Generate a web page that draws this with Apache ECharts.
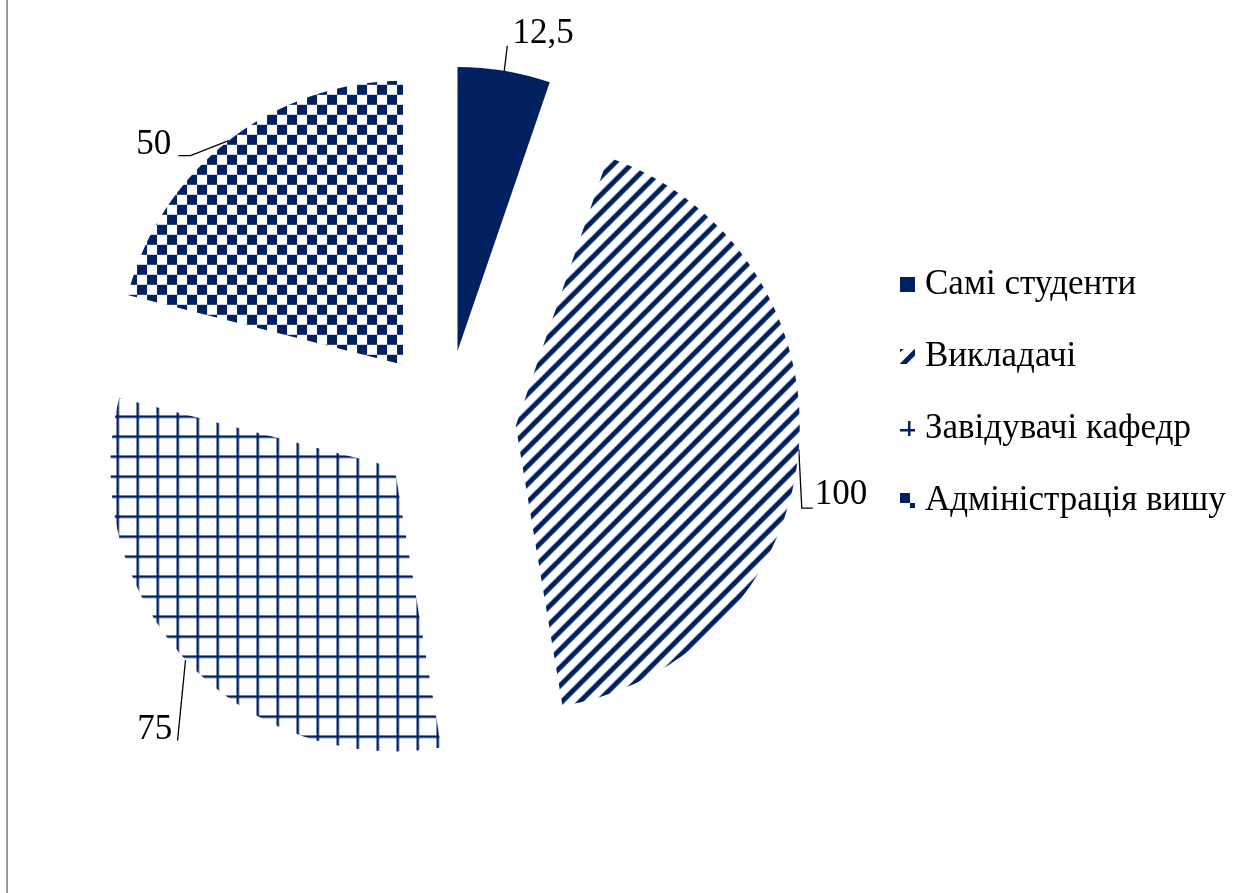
<!DOCTYPE html>
<html>
<head>
<meta charset="utf-8">
<script src="https://cdn.jsdelivr.net/npm/echarts@6/dist/echarts.min.js"></script>
<style>
html,body{margin:0;padding:0;background:#fff;}
#chart{width:1243px;height:893px;position:relative;}
#edge{position:absolute;left:6px;top:0;width:2px;height:893px;background:#9a9a9a;}
</style>
</head>
<body>
<div id="chart"></div>
<div id="edge"></div>
<script>
const categories = ['Самі студенти', 'Викладачі', 'Завідувачі кафедр', 'Адміністрація вишу'];
const values = [12.5, 100, 75, 50];

const NAVY = '#002060';

function makeCanvas(w, h, draw) {
  const c = document.createElement('canvas');
  c.width = w; c.height = h;
  const ctx = c.getContext('2d');
  ctx.fillStyle = '#fff';
  ctx.fillRect(0, 0, w, h);
  draw(ctx);
  return c;
}
const stripes = makeCanvas(18, 18, ctx => {
  ctx.strokeStyle = NAVY; ctx.lineWidth = 5;
  [[-9, 9, 9, -9], [0, 18, 18, 0], [9, 27, 27, 9]].forEach(l => {
    ctx.beginPath(); ctx.moveTo(l[0], l[1]); ctx.lineTo(l[2], l[3]); ctx.stroke();
  });
});
const grid = makeCanvas(20, 20, ctx => {
  ctx.fillStyle = NAVY;
  ctx.fillRect(8, 0, 2.5, 20);
  ctx.fillRect(0, 8, 20, 2.5);
});
const checker = makeCanvas(20, 20, ctx => {
  ctx.fillStyle = NAVY;
  ctx.fillRect(0, 0, 10, 10);
  ctx.fillRect(10, 10, 10, 10);
});
const fills = [
  NAVY,
  { image: stripes, repeat: 'repeat' },
  { image: grid, repeat: 'repeat' },
  { image: checker, repeat: 'repeat' }
];
// label line lengths [first segment, second segment]
const labelLines = [[38, 0], [10, 4], [10, 5], [2, 54]];
// label text nudges [dx, dy]
const labelNudges = [[0, 0], [0, 45], [1, 63], [0, 6]];
// leader line bend offsets, relative to the library's own line points
function leaderPoints(i, pts) {
  const p0 = pts[0], pe = pts[pts.length - 1];
  const n = labelNudges[i];
  if (i === 0) return [p0, [p0[0] + 3, p0[1] - 25]];
  if (i === 1) return [p0, [p0[0] + 3, pe[1] + n[1] + 13], [pe[0], pe[1] + n[1] + 13]];
  if (i === 2) return [p0, [p0[0] - 8, pe[1] + n[1] + 11]];
  return [p0, [p0[0] - 38, p0[1] + 15], [pe[0] + 5, p0[1] + 15]];
}

const chart = echarts.init(document.getElementById('chart'), null, { renderer: 'canvas' });
chart.setOption({
  animation: false,
  backgroundColor: '#fff',
  legend: {
    orient: 'vertical',
    left: 895,
    top: 262,
    itemGap: 37,
    itemWidth: 15,
    itemHeight: 15,
    icon: 'rect',
    selectedMode: false,
    textStyle: { fontFamily: 'Liberation Serif', fontSize: 35, color: '#000', padding: [0, 0, 0, 5] },
    data: categories
  },
  series: [{
    type: 'pie',
    center: [446, 420],
    radius: 284,
    startAngle: 90,
    clockwise: true,
    selectedMode: 'multiple',
    selectedOffset: 70,
    avoidLabelOverlap: false,
    emphasis: { disabled: true },
    itemStyle: { borderWidth: 0 },
    label: {
      show: true,
      position: 'outside',
      fontFamily: 'Liberation Serif',
      fontSize: 35,
      color: '#000',
      formatter: p => String(p.value).replace('.', ','),
      distanceToLabelLine: 2
    },
    labelLine: { show: true, lineStyle: { color: '#000', width: 1.3 } },
    labelLayout: p => {
      const n = labelNudges[p.dataIndex];
      const out = { dx: n[0], dy: n[1] };
      if (p.labelLinePoints && p.labelLinePoints.length) {
        out.labelLinePoints = leaderPoints(p.dataIndex, p.labelLinePoints);
      }
      return out;
    },
    data: categories.map((name, i) => ({
      name,
      value: values[i],
      selected: true,
      itemStyle: { color: fills[i] },
      labelLine: { length: labelLines[i][0], length2: labelLines[i][1] }
    }))
  }]
});
</script>
</body>
</html>
